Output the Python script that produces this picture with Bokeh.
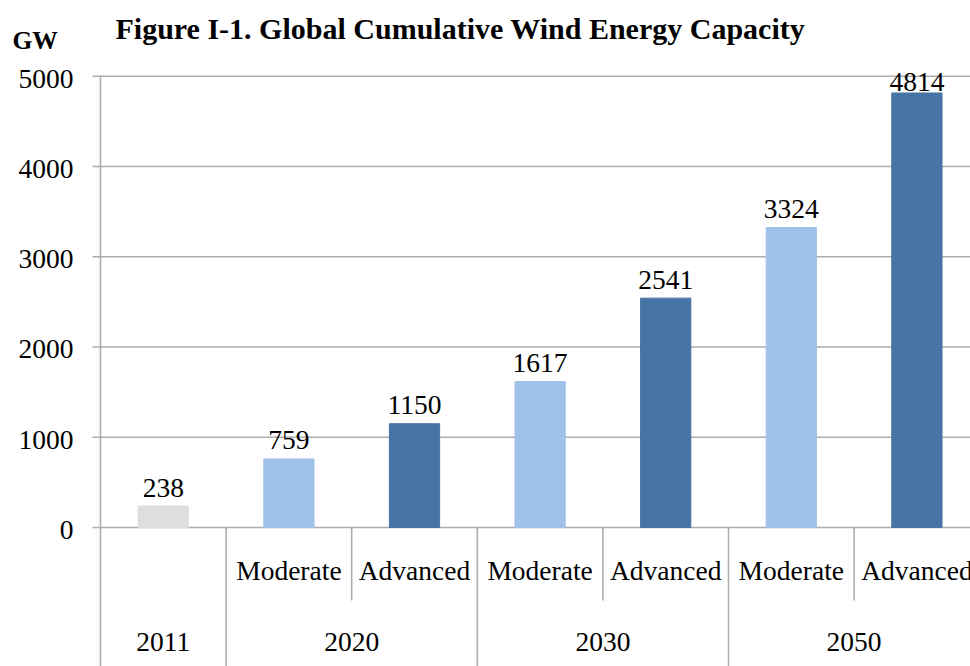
from bokeh.plotting import figure
from bokeh.models import Range1d, Label, ColumnDataSource
from bokeh.core.properties import value
from bokeh.embed import file_html
from bokeh.resources import INLINE

# ---- data ----
title_text = "Figure I-1. Global Cumulative Wind Energy Capacity"
unit_label = "GW"
bar_years = ["2011", "2020", "2020", "2030", "2030", "2050", "2050"]
bar_scenarios = ["", "Moderate", "Advanced", "Moderate", "Advanced", "Moderate", "Advanced"]
bar_values = [238, 759, 1150, 1617, 2541, 3324, 4814]
year_groups = ["2011", "2020", "2030", "2050"]
y_ticks = [0, 1000, 2000, 3000, 4000, 5000]

# ---- styles ----
FONT = "Liberation Serif"
FS = "27.5px"
GRID = "#ADADAD"
LW = 1.6
scen_colors = {"": "#DEDEDE", "Moderate": "#A1C2E8", "Advanced": "#4674A4"}

W, H = 970, 666
LEFT = 100            # pixel column of the value axis
PX_PER_UNIT = 451.3 / 5000.0
ZERO_FROM_TOP = 527   # pixel row of value 0
SLOT_PX = 125.6       # width of one category slot

def px_to_y(py):
    return (ZERO_FROM_TOP - py) * 1.0 / PX_PER_UNIT

def dx(px):
    return px * 1.0 / SLOT_PX

y_start = px_to_y(H)
y_end = px_to_y(0)
x_start = dx(-LEFT)
x_end = dx(W - LEFT)

p = figure(width=W, height=H, output_backend="svg", toolbar_location=None,
           x_range=Range1d(x_start, x_end), y_range=Range1d(y_start, y_end),
           min_border=0, x_axis_location=None, y_axis_location=None)
p.outline_line_color = None
p.background_fill_color = "white"
p.border_fill_color = "white"
p.grid.visible = False

n = len(bar_values)
top_tick = max(y_ticks)

# value axis: gridlines, tick marks, axis rule, tick labels
p.segment(x0=[0] * len(y_ticks), y0=y_ticks, x1=[n] * len(y_ticks), y1=y_ticks,
          line_color=GRID, line_width=LW)
p.segment(x0=[dx(-8)] * len(y_ticks), y0=y_ticks, x1=[0] * len(y_ticks), y1=y_ticks,
          line_color=GRID, line_width=LW)
p.segment(x0=[0], y0=[top_tick], x1=[0], y1=[y_start], line_color=GRID, line_width=LW)
p.text(x=[dx(-27)] * len(y_ticks), y=[t - 2.5 / PX_PER_UNIT for t in y_ticks],
       text=[str(t) for t in y_ticks], text_font=value(FONT), text_font_size=FS,
       text_align="right", text_baseline="middle", text_color="black")

# bars
xs = [i + 0.5 for i in range(n)]
label_cap = px_to_y(81)
label_y = [min(v + 18.5 / PX_PER_UNIT, label_cap) for v in bar_values]
src = ColumnDataSource(dict(
    x=xs, top=bar_values, ly=label_y,
    color=[scen_colors[s] for s in bar_scenarios],
    label=[str(v) for v in bar_values],
))
p.vbar(x="x", top="top", width=0.4, bottom=0, color="color", source=src)
p.text(x="x", y="ly", text="label", source=src, text_font=value(FONT),
       text_font_size=FS, text_align="center", text_baseline="middle", text_color="black")

# category table: separators
short_bottom = px_to_y(600)
full_x, short_x = [], []
for i in range(1, n + 1):
    if i == n or bar_years[i - 1] != bar_years[i]:
        full_x.append(i)
    else:
        short_x.append(i)
p.segment(x0=full_x, y0=[0] * len(full_x), x1=full_x, y1=[y_start] * len(full_x),
          line_color=GRID, line_width=LW)
p.segment(x0=short_x, y0=[0] * len(short_x), x1=short_x, y1=[short_bottom] * len(short_x),
          line_color=GRID, line_width=LW)

# scenario labels
sub_y = px_to_y(570)
sx = [x for x, s in zip(xs, bar_scenarios) if s]
st = [s for s in bar_scenarios if s]
p.text(x=sx, y=[sub_y] * len(sx), text=st, text_font=value(FONT), text_font_size=FS,
       text_align="center", text_baseline="middle", text_color="black")

# year labels
yr_y = px_to_y(641)
gx = []
for g in year_groups:
    idx = [i for i, y in enumerate(bar_years) if y == g]
    gx.append((min(idx) + max(idx) + 1) / 2.0)
p.text(x=gx, y=[yr_y] * len(gx), text=year_groups, text_font=value(FONT), text_font_size=FS,
       text_align="center", text_baseline="middle", text_color="black")

# title and unit label
p.add_layout(Label(x=115, y=H - 27.5, x_units="screen", y_units="screen", text=title_text,
                   text_font=FONT, text_font_size="30px", text_font_style="bold",
                   text_baseline="middle", text_align="left", text_color="black"))
p.add_layout(Label(x=12, y=H - 39.5, x_units="screen", y_units="screen", text=unit_label,
                   text_font=FONT, text_font_size="25.5px", text_font_style="bold",
                   text_baseline="middle", text_align="left", text_color="black"))

open("out.html", "w").write(file_html(p, INLINE))
